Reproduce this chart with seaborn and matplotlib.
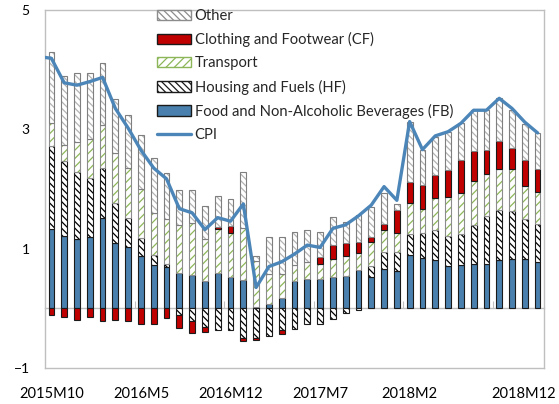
import numpy as np
import pandas as pd
import seaborn as sns
import matplotlib.pyplot as plt
from matplotlib.patches import Patch
from matplotlib.lines import Line2D


# Data, 2015M10 .. 2018M12
months = [f"{y}M{m}" for y in range(2015, 2019) for m in range(1, 13)][9:]

fb = [1.33, 1.21, 1.16, 1.19, 1.52, 1.09, 1.03, 0.88, 0.73, 0.69,
      0.59, 0.56, 0.46, 0.59, 0.52, 0.47, 0.03, 0.08, 0.18, 0.45,
      0.50, 0.50, 0.52, 0.55, 0.65, 0.53, 0.66, 0.62, 0.89, 0.85,
      0.81, 0.71, 0.73, 0.75, 0.74, 0.81, 0.83, 0.83, 0.78]
hf = [1.39, 1.26, 1.12, 0.99, 0.83, 0.67, 0.49, 0.30, 0.17, 0.05,
      -0.11, -0.22, -0.32, -0.37, -0.37, -0.49, -0.49, -0.47, -0.37, -0.35,
      -0.26, -0.26, -0.18, -0.07, -0.02, 0.18, 0.28, 0.32, 0.35, 0.41,
      0.50, 0.50, 0.51, 0.64, 0.81, 0.84, 0.80, 0.66, 0.64]
transport = [0.39, 0.26, 0.50, 0.65, 0.73, 0.85, 0.84, 0.82, 0.70, 0.75,
             0.81, 0.87, 0.71, 0.74, 0.74, 0.88, 0.77, 0.49, 0.40, 0.28,
             0.28, 0.25, 0.30, 0.33, 0.28, 0.41, 0.37, 0.32, 0.52, 0.40,
             0.54, 0.66, 0.69, 0.75, 0.70, 0.69, 0.70, 0.56, 0.53]
cf = [-0.12, -0.14, -0.19, -0.14, -0.22, -0.19, -0.22, -0.26, -0.26, -0.17,
      -0.22, -0.19, -0.08, 0.04, 0.12, -0.06, -0.04, 0.0, -0.06, 0.0,
      0.0, 0.11, 0.24, 0.21, 0.18, 0.08, 0.10, 0.39, 0.36, 0.41,
      0.39, 0.45, 0.56, 0.49, 0.40, 0.47, 0.36, 0.44, 0.38]
other = [1.18, 1.17, 1.16, 1.12, 1.03, 0.89, 0.88, 0.91, 0.92, 0.77,
         0.59, 0.56, 0.55, 0.51, 0.45, 0.93, 0.07, 0.62, 0.62, 0.55,
         0.53, 0.42, 0.47, 0.36, 0.45, 0.49, 0.52, 0.10, 1.01, 0.59,
         0.63, 0.64, 0.61, 0.69, 0.67, 0.71, 0.63, 0.60, 0.61]

# CPI starts one month earlier (2015M9), that point sits just off the axis
cpi = [4.22, 4.19, 3.78, 3.74, 3.80, 3.87, 3.35, 3.02, 2.65, 2.35, 2.17,
       1.67, 1.60, 1.32, 1.52, 1.46, 1.75, 0.35, 0.70, 0.78, 0.91,
       1.06, 1.02, 1.34, 1.40, 1.55, 1.73, 2.04, 1.81, 3.13, 2.66,
       2.89, 2.96, 3.10, 3.32, 3.32, 3.52, 3.35, 3.12, 2.94]

tick_labels = ["2015M10", "2016M5", "2016M12", "2017M7", "2018M2", "2018M12"]

# Style
sns.set_style("white")
plt.rcParams["font.family"] = ["Lato", "DejaVu Sans"]
plt.rcParams["hatch.linewidth"] = 0.9

BLUE = "#4A80AD"
LINE_BLUE = "#4C86B8"
RED = "#C00000"
GREEN = "#8DB659"
GRID = "#BFBFBF"

# name, values, face, hatch, hatch colour, outline
series = [
    ("Food and Non-Alcoholic Beverages (FB)", fb, BLUE, None, BLUE, "#1a1a1a"),
    ("Housing and Fuels (HF)", hf, "white", "\\\\\\\\\\", "black", "#1a1a1a"),
    ("Transport", transport, "white", "////", GREEN, "#8c8c8c"),
    ("Clothing and Footwear (CF)", cf, RED, None, RED, "#1a1a1a"),
    ("Other", other, "white", "\\\\\\\\\\", "#b3b3b3", "#7f7f7f"),
]

fig = plt.figure(figsize=(5.59, 4.04), dpi=100)
ax = fig.add_axes([45 / 559, 36 / 404, 499 / 559, 358 / 404])

x = np.arange(len(months))
width = 0.45
pos_base = np.zeros(len(months))
neg_base = np.zeros(len(months))

for name, vals, face, hatch, hcol, edge in series:
    v = np.array(vals)
    bottom = np.where(v >= 0, pos_base, neg_base)
    keep = v != 0
    ax.bar(x[keep], v[keep], width, bottom=bottom[keep], color=face,
           edgecolor=hcol, hatch=hatch, linewidth=0, zorder=2)
    ax.bar(x[keep], v[keep], width, bottom=bottom[keep], fill=False,
           edgecolor=edge, linewidth=0.8, zorder=2)
    pos_base += np.clip(v, 0, None)
    neg_base += np.clip(v, None, 0)

cpi_x = np.arange(-1, len(months))
sns.lineplot(x=cpi_x, y=cpi, ax=ax, color=LINE_BLUE, linewidth=2.4, zorder=3)

ax.set_xlim(-0.5, len(months) - 0.5)
ax.set_ylim(-1, 5)
ax.set_yticks([-1, 1, 3, 5])
ax.tick_params(axis="y", direction="in", length=4, color=GRID, pad=11,
               labelsize=10, labelcolor="black")
ax.set_xticks([0, 7, 14, 21, 28, 36.9])
ax.set_xticklabels(tick_labels)
ax.tick_params(axis="x", length=0, pad=14, labelsize=10.5, labelcolor="black")
for s in ax.spines.values():
    s.set_color(GRID)
    s.set_linewidth(1)

# horizontal axis line through zero with tick marks between categories
zero_ax = ax.secondary_xaxis(1 / 6)
zero_ax.set_xticks([6.5, 13.5, 20.5, 27.5, 34.5])
zero_ax.tick_params(direction="in", length=5, color=GRID, labelbottom=False)
zero_ax.spines["bottom"].set_color(GRID)
zero_ax.spines["bottom"].set_linewidth(1)

handles = [
    Patch(facecolor="white", edgecolor="#8c8c8c", hatch="\\\\\\\\\\", label="Other"),
    Patch(facecolor=RED, edgecolor="#1a1a1a", label="Clothing and Footwear (CF)"),
    Patch(facecolor="white", edgecolor=GREEN, hatch="////", label="Transport"),
    Patch(facecolor="white", edgecolor="#1a1a1a", hatch="\\\\\\\\\\", label="Housing and Fuels (HF)"),
    Patch(facecolor=BLUE, edgecolor="#1a1a1a", label="Food and Non-Alcoholic Beverages (FB)"),
    Line2D([], [], color=LINE_BLUE, linewidth=2.4, label="CPI"),
]
fig.legend(handles=handles, loc="upper left", bbox_to_anchor=(157 / 559, 1 - 9 / 404),
           frameon=False, fontsize=10.6, handlelength=2.3, handleheight=0.7,
           handletextpad=0.25, labelspacing=0.62, borderpad=0, borderaxespad=0)

fig.savefig("out.png", dpi=100, facecolor="white")
